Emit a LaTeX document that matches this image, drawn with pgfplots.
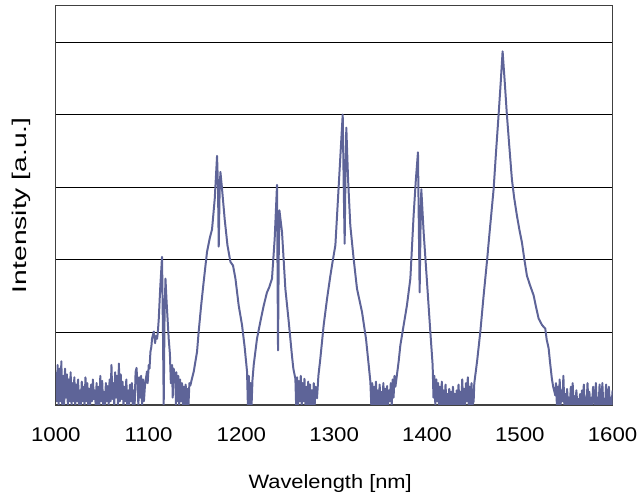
\documentclass[border=0pt]{standalone}
\usepackage{fontspec}
\setmainfont{Liberation Sans}
\usepackage{pgfplots}
\pgfplotsset{compat=1.18}
\definecolor{spec}{RGB}{94,100,152}

\begin{document}
\begin{tikzpicture}
\begin{axis}[
    scale only axis,
    width=559bp,
    height=400.8bp,
    xmin=1000, xmax=1600,
    ymin=0, ymax=5.5,
    xtick={1000,1100,...,1600},
    ytick={1,2,3,4,5},
    yticklabels={},
    major tick length=0pt,
    ymajorgrids=true,
    grid style={black, line width=0.8bp},
    axis line style={draw=black!75, line width=1.3bp},
    /pgf/number format/assume math mode=true,
    /pgf/number format/1000 sep={},
    tick label style={font=\fontsize{20}{24}\selectfont},
    xticklabel style={anchor=base, yshift=-36.5bp, xscale=1.12},
    xlabel={Wavelength [nm]},
    xlabel style={font=\fontsize{19.5}{24}\selectfont, at={(axis description cs:0.5,0)}, anchor=base, yshift=-83.5bp, xshift=-4bp, xscale=1.13},
]
\addplot[spec, line width=2bp, line join=round] coordinates {
(1000,0.45)(1001,0.05)(1002,0.55)(1003,0.0)(1004,0.5)(1005,0.05)(1006,0.6)(1007,0.0)(1008,0.4)(1009,0.0)
(1010,0.5)(1011,0.1)(1012,0.42)(1013,0.0)(1014,0.35)(1015,0.05)(1016,0.45)(1017,0.0)(1018,0.3)(1019,0.05)
(1020,0.38)(1021,0.0)(1022,0.28)(1023,0.05)(1024,0.35)(1025,0.0)(1026,0.2)(1027,0.0)(1028,0.32)(1029,0.05)
(1030,0.25)(1031,0.0)(1032,0.38)(1033,0.05)(1034,0.3)(1035,0.0)(1036,0.22)(1037,0.0)(1038,0.28)(1039,0.05)
(1040,0.35)(1041,0.08)(1042,0.2)(1043,0.0)(1044,0.3)(1045,0.0)(1046,0.25)(1047,0.0)(1048,0.4)(1049,0.05)
(1050,0.33)(1051,0.0)(1052,0.18)(1053,0.0)(1054,0.3)(1055,0.05)(1056,0.26)(1057,0.0)(1058,0.35)(1059,0.05)
(1060,0.55)(1061,0.08)(1062,0.3)(1063,0.0)(1064,0.45)(1065,0.1)(1066,0.4)(1067,0.0)(1068,0.57)(1069,0.05)
(1070,0.42)(1071,0.08)(1072,0.32)(1073,0.0)(1074,0.25)(1075,0.05)(1076,0.35)(1077,0.0)(1078,0.2)(1079,0.0)
(1080,0.28)(1081,0.05)(1082,0.3)(1083,0.0)(1084,0.2)(1085,0.0)(1086,0.45)(1087,0.51)(1088,0.3)(1089,0.0)
(1090,0.38)(1091,0.1)(1092,0.4)(1093,0.0)(1094,0.35)(1095,0.05)(1096,0.25)
(1097,0.35)(1098.3,0.46)(1099,0.3)(1100.2,0.55)(1101,0.5)(1102,0.73)(1103,0.8)(1103.7,0.91)(1105.6,1.01)
(1107,0.85)(1108,0.95)(1109.1,0.91)(1110,1.0)(1111,1.19)(1112.5,1.6)(1114.5,2.04)(1115.5,1.0)(1116.3,0)
(1117.2,1.2)(1118.2,1.74)(1119.5,1.4)(1121.7,0.91)(1123,0.7)(1124,0.3)(1125.3,0.55)(1126,0.1)(1127,0.5)(1128.9,0.36)
(1129.5,0.0)(1130,0.45)(1131,0.05)(1132,0.4)(1133,0.0)(1134,0.35)(1135,0.05)(1136,0.3)(1137,0.0)(1138,0.25)
(1139,0.0)(1140,0.28)(1141,0.0)(1142,0.22)(1143,0.0)(1144,0.3)(1145.1,0.27)
(1146.5,0.35)(1148.7,0.46)(1150.5,0.6)(1152.2,0.73)(1154,1.01)(1156.5,1.35)(1159.4,1.70)(1163,2.11)(1166,2.3)
(1168.4,2.42)(1171.3,2.84)(1173.8,3.43)(1174.8,3.0)(1175.6,2.18)(1176.5,2.9)(1177.4,3.21)(1179,3.0)(1182,2.56)
(1185,2.2)(1188.2,1.97)(1191,1.92)(1193.6,1.74)(1197.1,1.37)(1200.7,1.10)(1203.5,0.8)(1206.1,0.46)
(1207,0.0)(1208,0.4)(1209,0.0)(1210,0.3)(1211,0.0)(1212,0.35)
(1213.3,0.55)(1216.8,0.91)(1220.5,1.15)(1224.1,1.37)(1227.6,1.55)(1230,1.62)(1233,1.74)(1235.9,2.29)
(1238.4,3.03)(1239.0,1.8)(1239.5,0.75)(1240.2,2.0)(1241,2.68)(1243.8,2.38)(1247.4,1.60)(1251,1.15)
(1254.5,0.68)(1256,0.5)(1258.2,0.36)
(1259,0.0)(1260,0.38)(1261,0.0)(1262,0.33)(1263,0.05)(1264,0.4)(1265,0.0)(1266,0.3)(1267,0.05)(1268,0.36)
(1269,0.0)(1270,0.25)(1271,0.0)(1272,0.32)(1273,0.0)(1274,0.28)(1275,0.0)(1276,0.2)(1277,0.0)(1278,0.3)
(1279,0.0)(1280,0.25)
(1281.5,0.09)(1283,0.4)(1285.1,0.64)(1288.7,1.10)(1292.3,1.46)(1295.9,1.78)(1298.4,1.98)(1301.3,2.20)
(1304.9,3.02)(1307,3.5)(1309.2,4.0)(1310.3,3.0)(1311.3,2.22)(1312.2,3.2)(1313.1,3.82)(1315,3.1)(1317.4,2.47)
(1321,2.01)(1324.6,1.60)(1330,1.28)(1334.3,0.91)(1337.2,0.55)(1339,0.32)
(1340,0.0)(1341,0.3)(1342,0.0)(1343,0.25)(1344,0.0)(1345,0.32)(1346,0.0)(1347,0.2)(1348,0.0)(1349,0.28)
(1350,0.0)(1351,0.18)(1352,0.0)(1353,0.3)(1354,0.0)(1355,0.22)(1356,0.0)(1357,0.26)(1358,0.0)(1359,0.2)
(1360,0.05)(1361,0.3)(1362,0.0)(1363,0.35)(1364,0.1)(1365,0.4)(1366,0.25)
(1367.6,0.41)(1369.5,0.6)(1371.3,0.82)(1374.9,1.10)(1378.4,1.37)(1382.1,1.74)(1385.6,2.61)(1388,3.1)
(1390.3,3.48)(1391.2,2.5)(1392.1,1.55)(1393,2.4)(1393.9,2.97)(1396.4,2.38)(1400,1.70)(1403.6,1.01)(1406.1,0.55)
(1407,0.1)(1408,0.4)(1409,0.0)(1410,0.35)(1411,0.05)(1412,0.3)(1413,0.0)(1414,0.25)(1415,0.0)(1416,0.32)
(1417,0.0)(1418,0.2)(1419,0.0)(1420,0.28)(1421,0.0)(1422,0.15)(1423,0.0)(1424,0.22)(1425,0.0)(1426,0.18)
(1427,0.0)(1428,0.25)(1429,0.0)(1430,0.15)(1431,0.0)(1432,0.2)(1433,0.0)(1434,0.28)(1435,0.0)(1436,0.18)
(1437,0.0)(1438,0.35)(1439,0.0)(1440,0.22)(1441,0.0)(1442,0.3)(1443,0.05)(1444,0.38)(1445,0.0)(1446,0.25)
(1447,0.0)(1448,0.3)(1449,0.0)
(1450.3,0.05)(1451,0.3)(1452.1,0.41)(1454,0.6)(1457.5,1.01)(1461,1.5)(1464.6,1.97)(1468,2.45)(1471.8,2.97)
(1474.5,3.5)(1477.2,4.0)(1479.5,4.45)(1481.5,4.87)(1483.8,4.45)(1486.1,4.0)(1488.8,3.55)(1491.5,3.11)
(1494,2.85)(1496.9,2.61)(1499.5,2.42)(1502.3,2.24)(1505,2.0)(1507.7,1.78)(1511,1.65)(1514.9,1.51)
(1517.5,1.35)(1520.3,1.19)(1524,1.10)(1527.5,1.05)(1529,0.9)(1531.1,0.78)(1532.5,0.6)(1534.6,0.36)
(1536,0.25)(1538.3,0.13)
(1539,0.3)(1540,0.0)(1541,0.25)(1542,0.0)(1543,0.35)(1544,0.0)(1545,0.2)(1546,0.05)(1547,0.4)(1548,0.0)
(1549,0.15)(1550,0.0)(1551,0.22)(1552,0.0)(1553,0.1)(1554,0.0)(1555,0.25)(1556,0.0)(1557,0.3)(1558,0.0)
(1559,0.12)(1560,0.0)(1561,0.2)(1562,0.0)(1563,0.08)(1564,0.0)(1565,0.15)(1566,0.0)(1567,0.2)(1568,0.0)
(1569,0.28)(1570,0.0)(1571,0.1)(1572,0.0)(1573,0.3)(1574,0.0)(1575,0.18)(1576,0.0)(1577,0.1)(1578,0.0)
(1579,0.25)(1580,0.05)(1581,0.0)(1582,0.3)(1583,0.0)(1584,0.1)(1585,0.0)(1586,0.28)(1587,0.0)(1588,0.0)
(1589,0.3)(1590,0.0)(1591,0.05)(1592,0.0)(1593,0.28)(1594,0.0)(1595,0.0)(1596,0.25)(1597,0.0)(1598,0.1)
(1599,0.0)(1600,0.2)
};
\end{axis}
\node[font=\fontsize{20}{24}\selectfont, rotate=90, xscale=1.42, anchor=base]
  at ([xshift=-29bp]current axis.west) {Intensity [a.u.]};
\path ([shift={(-56bp,-88.5bp)}]current axis.south west) rectangle ([shift={(26bp,5.7bp)}]current axis.north east);
\end{tikzpicture}
\end{document}
